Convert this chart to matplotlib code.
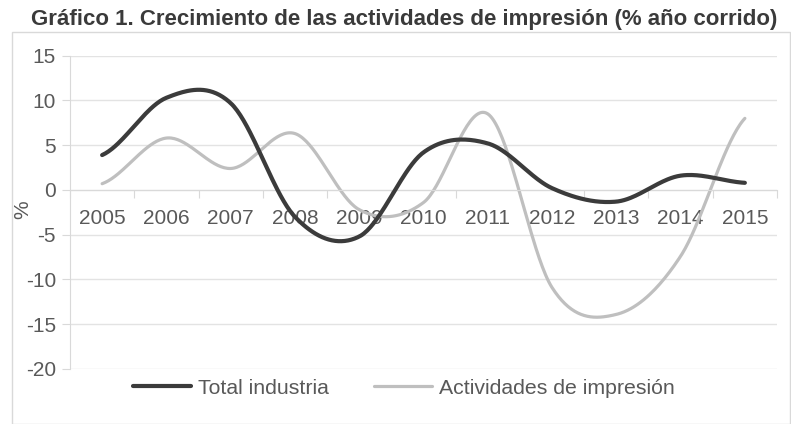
import numpy as np
import matplotlib.pyplot as plt
from matplotlib.patches import Rectangle

plt.rcParams['font.family'] = ['Liberation Sans', 'DejaVu Sans']
plt.rcParams['axes.unicode_minus'] = False

years = ['2005', '2006', '2007', '2008', '2009', '2010',
         '2011', '2012', '2013', '2014', '2015']
total_industria = [3.9, 10.3, 9.7, -3.0, -5.2, 4.2, 5.2, 0.2, -1.3, 1.6, 0.8]
impresion = [0.7, 5.8, 2.4, 6.3, -2.2, -1.4, 8.5, -10.9, -13.9, -7.4, 8.0]


def smooth(y, n=40):
    # Excel-style smoothed line (Catmull-Rom through the points)
    y = np.asarray(y, float)
    p = np.concatenate([[y[0]], y, [y[-1]]])
    xs, ys = [], []
    for i in range(len(y) - 1):
        p0, p1, p2, p3 = p[i], p[i + 1], p[i + 2], p[i + 3]
        t = np.linspace(0, 1, n, endpoint=False)
        v = 0.5 * (2 * p1 + (-p0 + p2) * t + (2 * p0 - 5 * p1 + 4 * p2 - p3) * t ** 2
                   + (-p0 + 3 * p1 - 3 * p2 + p3) * t ** 3)
        xs.append(i + t)
        ys.append(v)
    xs.append([len(y) - 1])
    ys.append([y[-1]])
    return np.concatenate(xs), np.concatenate(ys)


fig = plt.figure(figsize=(7.91, 4.24), dpi=100)
ax = fig.add_axes([70 / 791, 1 - 369 / 424, 707 / 791, (369 - 55.7) / 424])

fig.patches.append(Rectangle((12 / 791, 0), 778 / 791, 1 - 32 / 424,
                             transform=fig.transFigure, fill=False,
                             edgecolor='#d9d9d9', linewidth=1))

x = np.arange(len(years))
sx, sy = smooth(total_industria)
ax.plot(sx, sy, color='#3b3b3b', linewidth=3.0, label='Total industria',
        solid_capstyle='round', zorder=3)
sx, sy = smooth(impresion)
ax.plot(sx, sy, color='#bfbfbf', linewidth=2.3, label='Actividades de impresión',
        solid_capstyle='round', zorder=2)

ax.set_xlim(-0.5, len(years) - 0.5)
ax.set_ylim(-20, 15)
ax.set_yticks(range(-20, 16, 5))
ax.grid(axis='y', color='#e3e3e3', linewidth=1)
ax.set_axisbelow(True)

ax.spines['top'].set_visible(False)
ax.spines['right'].set_visible(False)
ax.spines['left'].set_color('#d9d9d9')
ax.spines['bottom'].set_color('#d9d9d9')
ax.spines['bottom'].set_position(('data', 0))

ax.set_xticks(np.arange(len(years) + 1) - 0.5)
ax.set_xticklabels([])
ax.set_xticks(x, minor=True)
ax.set_xticklabels(years, minor=True)
ax.tick_params(axis='x', which='major', length=6, color='#d9d9d9')
ax.tick_params(axis='x', which='minor', length=0, pad=14,
               labelsize=15, labelcolor='#595959')
ax.tick_params(axis='y', length=6, color='#d9d9d9', labelsize=15,
               labelcolor='#595959', pad=4)

ax.set_ylabel('%', fontsize=15, color='#595959')
ax.yaxis.set_label_coords(-0.054, 0.507)

fig.text(404 / 791, 1 - 20 / 424,
         'Gráfico 1. Crecimiento de las actividades de impresión (% año corrido)',
         ha='center', va='center', fontsize=16, fontweight='bold', color='#3a3a3a')

ax.legend(loc='center', bbox_to_anchor=(0.472, -0.061), ncol=2, frameon=False,
          fontsize=15.3, labelcolor='#595959', handlelength=2.75, handletextpad=0.33,
          columnspacing=2.1, borderaxespad=0, borderpad=0)

fig.savefig('out.png', dpi=100)
